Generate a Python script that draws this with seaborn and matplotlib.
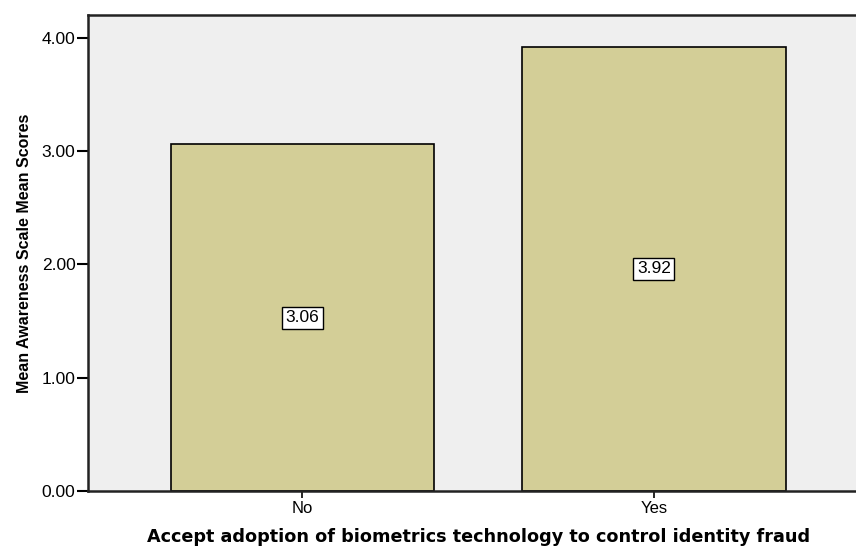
import matplotlib
matplotlib.use("Agg")
import matplotlib.pyplot as plt
import pandas as pd
import seaborn as sns

categories = ["No", "Yes"]
mean_scores = [3.06, 3.92]
y_ticks = [0.0, 1.0, 2.0, 3.0, 4.0]

df = pd.DataFrame({"group": categories, "score": mean_scores})

sns.set_style("white")
plt.rcParams["font.family"] = ["Liberation Sans", "DejaVu Sans"]
plt.rcParams["text.color"] = "black"
plt.rcParams["axes.labelcolor"] = "black"
plt.rcParams["xtick.color"] = "black"
plt.rcParams["ytick.color"] = "black"

fig = plt.figure(figsize=(8.56, 5.48), dpi=100)
ax = fig.add_axes([88 / 856, 57 / 548, 1 - 88 / 856, (491 - 15) / 548])
ax.set_facecolor("#efefef")

sns.barplot(data=df, x="group", y="score", color="#d3ce97", saturation=1,
            width=0.75, edgecolor="black", linewidth=1.2, ax=ax)

for i, v in enumerate(mean_scores):
    ax.text(i, v / 2, f"{v:.2f}", ha="center", va="center", fontsize=12.5,
            bbox=dict(boxstyle="square,pad=0.2", fc="white", ec="black", lw=1))

ax.set_xlim(-0.61, 1.575)
ax.set_ylim(0, 4.2)
ax.set_yticks(y_ticks)
ax.set_yticklabels([f"{t:.2f}" for t in y_ticks], fontsize=12.5)
ax.tick_params(axis="x", labelsize=12, length=5, width=1.2, direction="out", bottom=True, pad=2)
ax.tick_params(axis="y", length=8, width=1.5, direction="out", left=True, pad=1)

for side in ["left", "bottom", "top"]:
    ax.spines[side].set_visible(True)
    ax.spines[side].set_color("#222222")
    ax.spines[side].set_linewidth(1.8)
ax.spines["right"].set_visible(False)

ax.set_ylabel("Mean Awareness Scale Mean Scores", fontsize=11.5, fontweight="bold", labelpad=7)
ax.set_xlabel("Accept adoption of biometrics technology to control identity fraud",
              fontsize=12.7, fontweight="bold", family="DejaVu Sans")
ax.xaxis.set_label_coords(0.509, -0.078)

fig.savefig("out.png", dpi=100)
